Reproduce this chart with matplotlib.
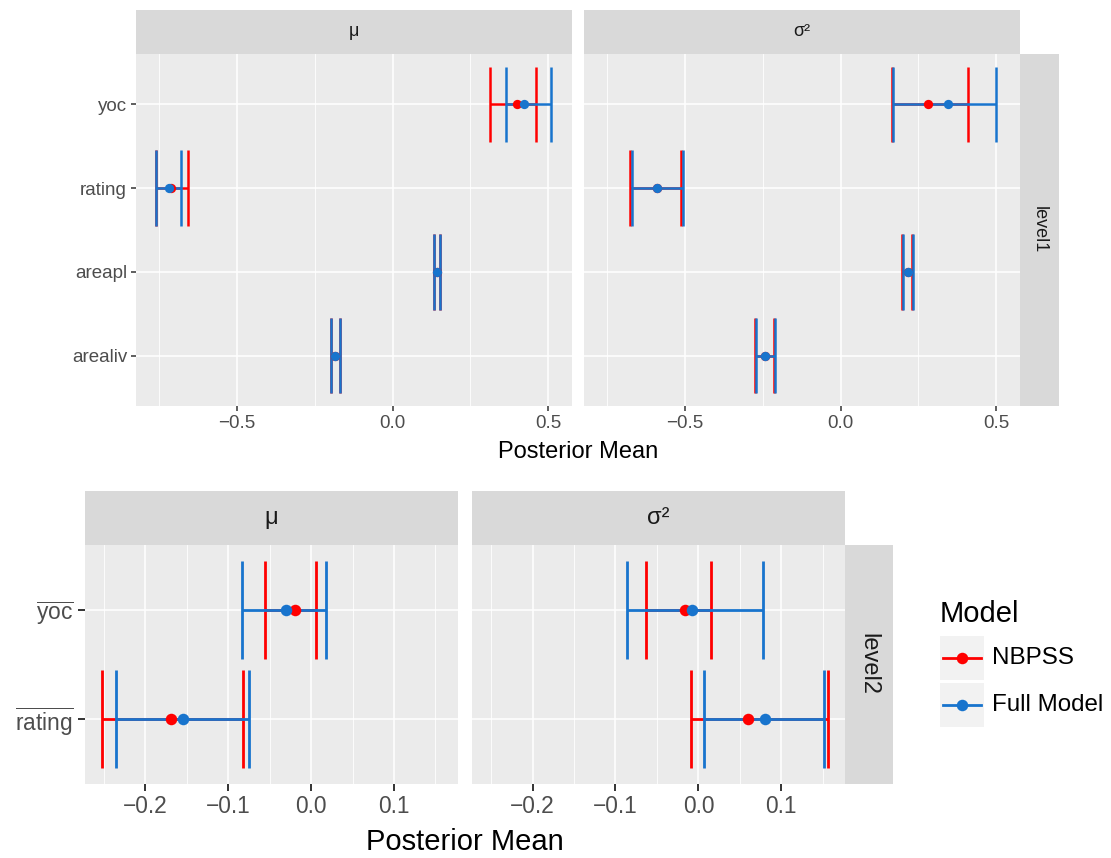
import matplotlib
matplotlib.use("Agg")
import matplotlib.pyplot as plt
from matplotlib.patches import Rectangle
from matplotlib.lines import Line2D
import numpy as np

plt.rcParams['font.family'] = ['Liberation Sans', 'DejaVu Sans']
plt.rcParams['mathtext.fontset'] = 'custom'
plt.rcParams['mathtext.rm'] = 'Liberation Sans'
plt.rcParams['mathtext.it'] = 'Liberation Sans:italic'
plt.rcParams['mathtext.bf'] = 'Liberation Sans:bold'

# ---------------- data ----------------
models = ['NBPSS', 'Full Model']
colors = ['#FF0000', '#1874CD']

# level 1 (positions bottom -> top)
lvl1_cats = ['arealiv', 'areapl', 'rating', 'yoc']

l1_mu_nb_mean = [-0.184, 0.144, -0.710, 0.399]
l1_mu_nb_lo = [-0.197, 0.134, -0.761, 0.313]
l1_mu_nb_hi = [-0.168, 0.152, -0.656, 0.462]
l1_mu_fm_mean = [-0.184, 0.144, -0.719, 0.422]
l1_mu_fm_lo = [-0.197, 0.134, -0.761, 0.365]
l1_mu_fm_hi = [-0.169, 0.152, -0.681, 0.510]

l1_s2_nb_mean = [-0.241, 0.217, -0.590, 0.282]
l1_s2_nb_lo = [-0.275, 0.199, -0.675, 0.164]
l1_s2_nb_hi = [-0.213, 0.231, -0.514, 0.410]
l1_s2_fm_mean = [-0.241, 0.217, -0.590, 0.344]
l1_s2_fm_lo = [-0.273, 0.201, -0.669, 0.167]
l1_s2_fm_hi = [-0.211, 0.233, -0.505, 0.499]

# level 2 (positions bottom -> top)
lvl2_cats = [r'$\overline{\mathrm{rating}}$', r'$\overline{\mathrm{yoc}}$']

l2_mu_nb_mean = [-0.1694, -0.0196]
l2_mu_nb_lo = [-0.2518, -0.0554]
l2_mu_nb_hi = [-0.0819, 0.0065]
l2_mu_fm_mean = [-0.1550, -0.0308]
l2_mu_fm_lo = [-0.2353, -0.0831]
l2_mu_fm_hi = [-0.0747, 0.0181]

l2_s2_nb_mean = [0.0600, -0.0161]
l2_s2_nb_lo = [-0.0085, -0.0628]
l2_s2_nb_hi = [0.1560, 0.0157]
l2_s2_fm_mean = [0.0806, -0.0072]
l2_s2_fm_lo = [0.0065, -0.0865]
l2_s2_fm_hi = [0.1520, 0.0781]

top_xticks = [-0.5, 0.0, 0.5]
top_xminor = [-0.75, -0.25, 0.25]
bot_xticks = [-0.2, -0.1, 0.0, 0.1]
bot_xminor = [-0.25, -0.15, -0.05, 0.05, 0.15]
facet_labels = ['μ', 'σ²']

# ---------------- layout ----------------
W, H = 1111, 858
fig = plt.figure(figsize=(W / 100, H / 100), dpi=100)


def rect(x0, x1, y0, y1):
    return [x0 / W, 1 - y1 / H, (x1 - x0) / W, (y1 - y0) / H]


def strip(x0, x1, y0, y1, text, size, rotation=0):
    a = fig.add_axes(rect(x0, x1, y0, y1))
    a.set_facecolor('#D9D9D9')
    a.set_xticks([]); a.set_yticks([])
    for s in a.spines.values():
        s.set_visible(False)
    a.text(0.5, 0.5, text, transform=a.transAxes, ha='center', va='center',
           fontsize=size, color='#1A1A1A', rotation=rotation)
    return a


def panel(r, xlim, ylim, xt, xm, ncat, ticklab, ylabels, ts, tl, tw):
    a = fig.add_axes(r)
    a.set_facecolor('#EBEBEB')
    for s in a.spines.values():
        s.set_visible(False)
    a.set_xlim(*xlim); a.set_ylim(*ylim)
    a.set_xticks(xt)
    a.set_xticklabels(['{:.1f}'.format(v).replace('-', '\u2212') for v in xt])
    a.set_xticks(xm, minor=True)
    a.set_yticks(np.arange(1, ncat + 1))
    if ylabels is not None:
        a.set_yticklabels(ylabels)
    else:
        a.set_yticklabels([])
    a.grid(which='major', color='white', lw=1.15)
    a.grid(which='minor', axis='x', color='white', lw=0.6)
    a.set_axisbelow(True)
    a.tick_params(which='major', labelsize=ts, colors='#333333', labelcolor='#4D4D4D',
                  length=tl, width=tw, pad=3)
    a.tick_params(which='minor', length=0)
    if ylabels is None:
        a.tick_params(axis='y', length=0)
    return a


def draw(a, means_list, lo_list, hi_list, half, lw, ms):
    for mean, lo, hi, c in zip(means_list, lo_list, hi_list, colors):
        pos = np.arange(1, len(mean) + 1)
        a.hlines(pos, lo, hi, color=c, lw=lw, zorder=3)
        a.vlines(lo, pos - half, pos + half, color=c, lw=lw, zorder=3)
        a.vlines(hi, pos - half, pos + half, color=c, lw=lw, zorder=3)
    for mean, c in zip(means_list, colors):
        pos = np.arange(1, len(mean) + 1)
        a.plot(mean, pos, 'o', color=c, ms=ms, mec='none', zorder=4)


# top panels
top_xlim = (-0.824, 0.5765)
top_ylim = (0.4, 4.6)
ax1 = panel(rect(136, 572, 54, 406), top_xlim, top_ylim, top_xticks, top_xminor, 4,
            None, lvl1_cats, 13.5, 3.4, 1.1)
ax2 = panel(rect(584, 1020, 54, 406), top_xlim, top_ylim, top_xticks, top_xminor, 4,
            None, None, 13.5, 3.4, 1.1)
draw(ax1, [l1_mu_nb_mean, l1_mu_fm_mean], [l1_mu_nb_lo, l1_mu_fm_lo],
     [l1_mu_nb_hi, l1_mu_fm_hi], 0.45, 1.8, 6.7)
draw(ax2, [l1_s2_nb_mean, l1_s2_fm_mean], [l1_s2_nb_lo, l1_s2_fm_lo],
     [l1_s2_nb_hi, l1_s2_fm_hi], 0.45, 1.8, 6.7)
strip(136, 572, 10, 54, facet_labels[0], 13)
strip(584, 1020, 10, 54, facet_labels[1], 13)
strip(1020, 1059, 54, 406, 'level1', 13, rotation=-90)
fig.text(578 / W, 1 - 452 / H, 'Posterior Mean', ha='center', va='center',
         fontsize=17, color='black')

# bottom panels
bot_xlim = (-0.2727, 0.1768)
bot_ylim = (0.4, 2.6)
ax3 = panel(rect(85, 457.7, 544.5, 784), bot_xlim, bot_ylim, bot_xticks, bot_xminor, 2,
            None, lvl2_cats, 16.4, 5, 1.4)
ax4 = panel(rect(472.3, 845, 544.5, 784), bot_xlim, bot_ylim, bot_xticks, bot_xminor, 2,
            None, None, 16.4, 5, 1.4)
draw(ax3, [l2_mu_nb_mean, l2_mu_fm_mean], [l2_mu_nb_lo, l2_mu_fm_lo],
     [l2_mu_nb_hi, l2_mu_fm_hi], 0.45, 2.0, 8.3)
draw(ax4, [l2_s2_nb_mean, l2_s2_fm_mean], [l2_s2_nb_lo, l2_s2_fm_lo],
     [l2_s2_nb_hi, l2_s2_fm_hi], 0.45, 2.0, 8.3)
strip(85, 457.7, 491, 544.5, facet_labels[0], 17)
strip(472.3, 845, 491, 544.5, facet_labels[1], 17)
strip(845, 892.7, 544.5, 784, 'level2', 17, rotation=-90)
fig.text(465 / W, 1 - 842 / H, 'Posterior Mean', ha='center', va='center',
         fontsize=21, color='black')

# legend (manual, ggplot style)
lg = fig.add_axes(rect(930, 1111, 590, 740))
lg.set_xlim(930, 1111); lg.set_ylim(740, 590)
lg.axis('off')
lg.text(940, 622, 'Model', fontsize=21, ha='left', va='baseline', color='black')
key_tops = [636, 683]
for m, c, kt in zip(models, colors, key_tops):
    lg.add_patch(Rectangle((940, kt), 44, 44, facecolor='#F2F2F2', edgecolor='none'))
    yc = kt + 22
    lg.plot([943, 981], [yc, yc], color=c, lw=2.0)
    lg.plot([962], [yc], 'o', color=c, ms=8.3, mec='none')
    lg.text(992, yc, m, fontsize=17.4, ha='left', va='center', color='black')

fig.savefig('out.png', dpi=100, facecolor='white')
